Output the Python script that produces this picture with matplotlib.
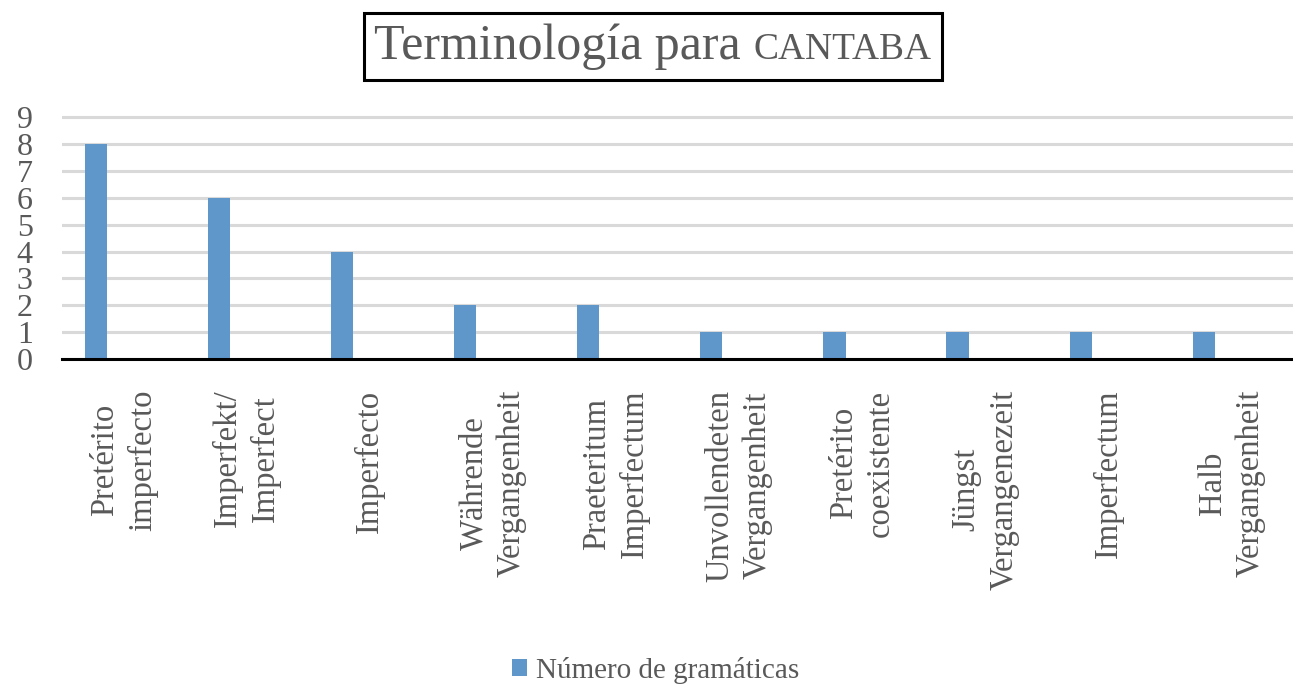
import numpy as np
from matplotlib import pyplot as plt
from matplotlib.offsetbox import TextArea, HPacker, AnchoredOffsetbox

plt.rcParams['font.family'] = ['Liberation Serif', 'DejaVu Serif']

# data
terms = ['Pretérito\nimperfecto', 'Imperfekt/\nImperfect', 'Imperfecto',
         'Währende\nVergangenheit', 'Praeteritum\nImperfectum',
         'Unvollendeten\nVergangenheit', 'Pretérito\ncoexistente',
         'Jüngst\nVergangenezeit', 'Imperfectum', 'Halb\nVergangenheit']
counts = [8, 6, 4, 2, 2, 1, 1, 1, 1, 1]
series_name = 'Número de gramáticas'
yticks = list(range(0, 10))

grey = '#595959'
blue = '#5f97cb'

fig = plt.figure(figsize=(12.93, 6.88), dpi=100)
ax = fig.add_axes([62/1293, 1 - 359/688, 1 - 62/1293, (359 - 115)/688])

x = np.arange(len(terms))
ax.bar(x - 0.225, counts, width=0.18, color=blue, label=series_name, zorder=3)

ax.set_xlim(-0.5, len(terms) - 0.5)
ax.set_ylim(0, 9.08)
ax.set_yticks(yticks)
ax.set_yticklabels([str(v) for v in yticks], fontsize=23, color=grey)
ax.set_xticks(x)
ax.set_xticklabels(terms, rotation=90, ha='center', va='top',
                   multialignment='center', fontsize=23.5, color=grey,
                   linespacing=1.3)
ax.tick_params(axis='y', length=0, pad=21)
ax.tick_params(axis='x', length=0, pad=22)

ax.yaxis.grid(True, color='#d9d9d9', linewidth=2.2)
ax.set_axisbelow(True)
for s in ['left', 'right', 'top']:
    ax.spines[s].set_visible(False)
ax.spines['bottom'].set_color('black')
ax.spines['bottom'].set_linewidth(2.2)
ax.spines['bottom'].set_zorder(4)

# title in a box, with small caps part
t1 = TextArea('Terminología para ', textprops=dict(fontsize=36, color=grey))
t2 = TextArea('CANTABA', textprops=dict(fontsize=27, color=grey))
title_box = HPacker(children=[t1, t2], align='baseline', pad=0, sep=0)
anchored = AnchoredOffsetbox(loc='center', child=title_box, pad=0.75,
                             frameon=True, bbox_to_anchor=(0.505, 0.932),
                             bbox_transform=fig.transFigure, borderpad=0)
anchored.patch.set_edgecolor('black')
anchored.patch.set_linewidth(2.2)
anchored.patch.set_boxstyle('square', pad=0)
fig.add_artist(anchored)

leg = fig.legend(loc='lower center', bbox_to_anchor=(0.507, -0.032),
                 frameon=False, fontsize=21, handlelength=0.5,
                 handleheight=0.5, handletextpad=0.3)
for t in leg.get_texts():
    t.set_color(grey)

fig.savefig('out.png', dpi=100)
